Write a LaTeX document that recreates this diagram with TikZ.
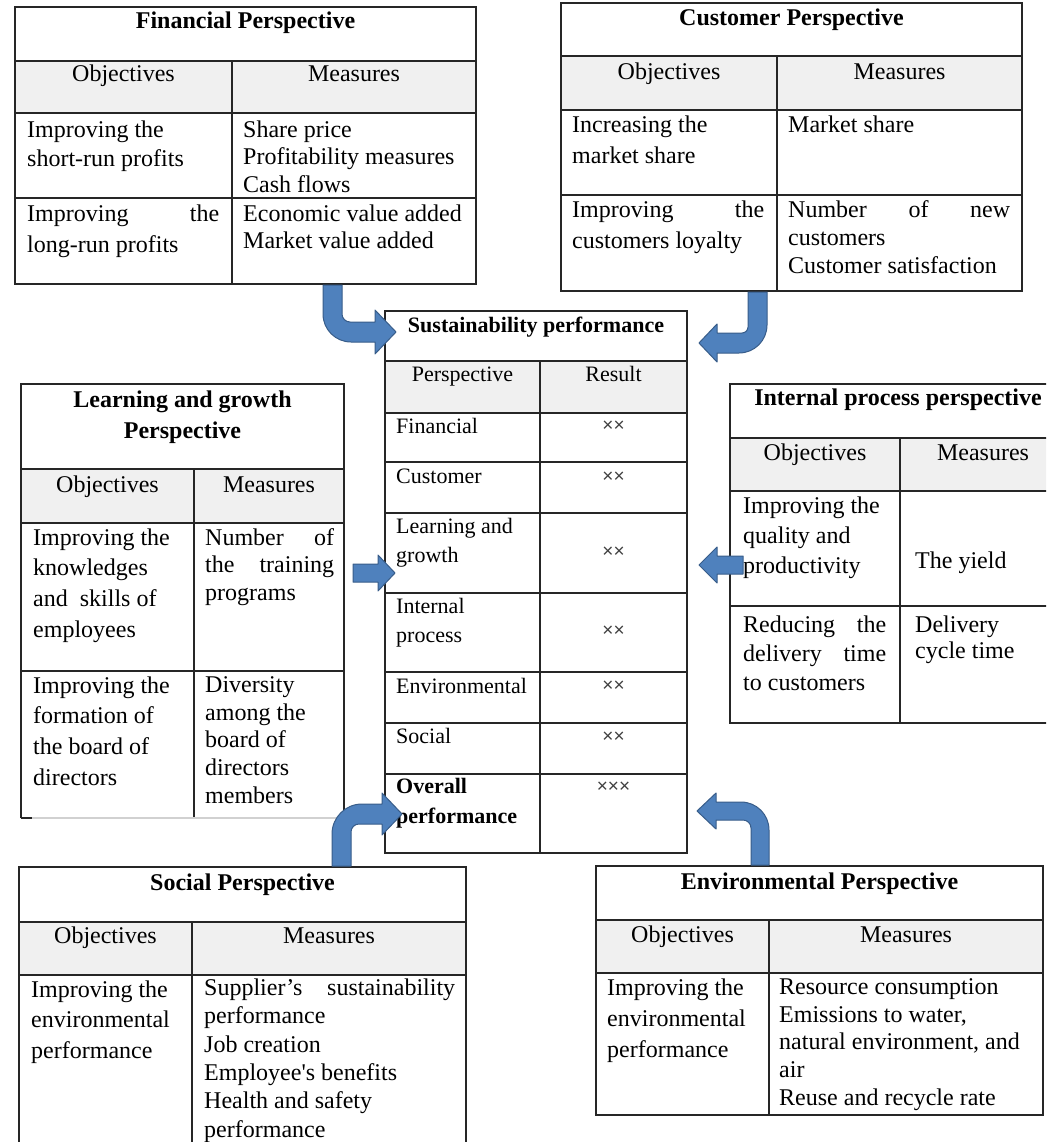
\documentclass[tikz,border=0pt]{standalone}
\usepackage{fontspec}
\setmainfont{Liberation Serif}
\newfontfamily\sansx{Liberation Sans}
\definecolor{arrfill}{HTML}{4F81BD}
\definecolor{arrline}{HTML}{385D8A}
\definecolor{hdrgray}{HTML}{F0F0F0}
\newcommand\tp{\rule{0pt}{20pt}}
\newcommand\jl[2]{\hbox to #1pt{#2}}
\begin{document}
\begin{tikzpicture}[x=1pt,y=-1pt,
  tb/.style={line width=1.4pt, draw=black!85},
  ttl/.style={font=\bfseries\fontsize{24}{28}\selectfont, anchor=base, inner sep=0pt},
  hd/.style={font=\fontsize{24}{28}\selectfont, anchor=base, inner sep=0pt},
  cell/.style={font=\fontsize{24}{#1}\selectfont, anchor=north west, inner sep=0pt, align=left},
  scell/.style={font=\fontsize{22}{#1}\selectfont, anchor=north west, inner sep=0pt, align=left},
  sttl/.style={font=\bfseries\fontsize{22}{26}\selectfont, anchor=base, inner sep=0pt},
  shd/.style={font=\fontsize{22}{26}\selectfont, anchor=base, inner sep=0pt},
  xx/.style={font=\sansx\fontsize{19}{20}\selectfont, text=black!75, anchor=center, inner sep=0pt},
  blockarrow/.style={fill=arrfill, draw=arrline, line width=1pt, line join=round}]
\useasboundingbox (0,0) rectangle (1046,1142);
\clip (0,0) rectangle (1046,1142);
\fill[white] (0,0) rectangle (1046,1142);

% ---------- Financial Perspective ----------
\fill[hdrgray] (15,61) rectangle (476,113);
\draw[tb] (15,7) rectangle (476,284);
\draw[tb] (15,61) -- (476,61) (15,113) -- (476,113) (15,198) -- (476,198) (232,61) -- (232,284);
\node[ttl] (fint) at (245.5,29) {Financial Perspective};
\node[hd] (fino) at (123.5,82) {Objectives};
\node[hd] (finm) at (354,82) {Measures};
\node[cell=29.5] (fino1) at (27,117) {\tp Improving the\\short-run profits};
\node[cell=27.6] (finm1) at (243,117) {\tp Share price\\Profitability measures\\Cash flows};
\node[cell=31] (fino2) at (27,201) {\tp\jl{192}{Improving\hfill the}\\long-run profits};
\node[cell=27] (finm2) at (243,201) {\tp Economic value added\\Market value added};

% ---------- Customer Perspective ----------
\fill[hdrgray] (561,56) rectangle (1022,110);
\draw[tb] (561,3) rectangle (1022,291);
\draw[tb] (561,56) -- (1022,56) (561,110) -- (1022,110) (561,195) -- (1022,195) (777,56) -- (777,291);
\node[ttl] (cust) at (791.5,26) {Customer Perspective};
\node[hd] (cuso) at (669,80) {Objectives};
\node[hd] (cusm) at (899.5,80) {Measures};
\node[cell=31.6] (cuso1) at (572,112) {\tp Increasing the\\market share};
\node[cell=27.6] (cusm1) at (788,112) {\tp Market share};
\node[cell=31.6] (cuso2) at (572,197) {\tp\jl{192}{Improving\hfill the}\\customers loyalty};
\node[cell=28.3] (cusm2) at (788,197) {\tp\jl{222}{Number\hfill of\hfill new}\\customers\\Customer satisfaction};

% ---------- Sustainability performance ----------
\fill[hdrgray] (385,361) rectangle (687,413);
\draw[tb] (385,311) rectangle (687,853);
\draw[tb] (385,361) -- (687,361) (385,413) -- (687,413) (385,462) -- (687,462)
          (385,513) -- (687,513) (385,593) -- (687,593) (385,672) -- (687,672)
          (385,723) -- (687,723) (385,774) -- (687,774) (540,361) -- (540,853);
\node[sttl] (sust) at (536,332) {Sustainability performance};
\node[shd] (susp) at (462.5,381) {Perspective};
\node[shd] (susr) at (613.5,381) {Result};
\node[scell=29] (sus1) at (396,413) {\tp Financial};
\node[scell=29] (sus2) at (396,463) {\tp Customer};
\node[scell=29] (sus3) at (396,513) {\tp Learning and\\growth};
\node[scell=29] (sus4) at (396,593) {\tp Internal\\process};
\node[scell=29] (sus5) at (396,673) {\tp Environmental};
\node[scell=29] (sus6) at (396,723) {\tp Social};
\node[scell=30, font=\bfseries\fontsize{22}{30}\selectfont] (sus7) at (396,773) {\tp Overall\\performance};
\node[xx] (res1) at (613.5,426) {××};
\node[xx] (res2) at (613.5,477) {××};
\node[xx] (res3) at (613.5,552) {××};
\node[xx] (res4) at (613.5,631) {××};
\node[xx] (res5) at (613.5,686) {××};
\node[xx] (res6) at (613.5,737) {××};
\node[xx] (res7) at (613.5,787) {×××};

% ---------- Learning and growth Perspective ----------
\fill[hdrgray] (21,469) rectangle (344,523);
\draw[tb] (21,818) -- (21,384) -- (344,384) -- (344,818);
\draw[tb] (21,469) -- (344,469) (21,523) -- (344,523) (21,671) -- (344,671) (194,469) -- (194,818);
\draw[line width=1.4pt, draw=black!18] (32,818) -- (344,818);
\draw[tb] (21,818) -- (32,818);
\node[ttl] (lgt1) at (182.5,407) {Learning and growth};
\node[ttl] (lgt2) at (182.5,438) {Perspective};
\node[hd] (lgo) at (107.5,492) {Objectives};
\node[hd] (lgm) at (269,492) {Measures};
\node[cell=30.7] (lgo1) at (33,525) {\tp Improving the\\knowledges\\and\ \ skills of\\employees};
\node[cell=27.5] (lgm1) at (205,525) {\tp\jl{129}{Number\hfill of}\\\jl{129}{the\hfill training}\\programs};
\node[cell=30.7] (lgo2) at (33,673) {\tp Improving the\\formation of\\the board of\\directors};
\node[cell=27.8] (lgm2) at (205,672) {\tp Diversity\\among the\\board of\\directors\\members};

% ---------- Internal process perspective ----------
\fill[hdrgray] (730,438) rectangle (1066,491);
\draw[tb] (730,384) rectangle (1066,723);
\draw[tb] (730,438) -- (1066,438) (730,491) -- (1066,491) (730,606) -- (1066,606) (900,438) -- (900,723);
\node[ttl] (ipt) at (898,405) {Internal process perspective};
\node[hd] (ipo) at (815,460) {Objectives};
\node[hd] (ipm) at (983,460) {Measures};
\node[cell=30] (ipo1) at (743,493) {\tp Improving the\\quality and\\productivity};
\node[cell=27.6] (ipm1) at (915,548) {\tp The yield};
\node[cell=29] (ipo2) at (743,612) {\tp\jl{143}{Reducing\hfill the}\\\jl{143}{delivery\hfill time}\\to customers};
\node[cell=26] (ipm2) at (915,612) {\tp Delivery\\cycle time};

% ---------- Social Perspective ----------
\fill[hdrgray] (19,922) rectangle (466,975);
\draw[tb] (19,1150) -- (19,867) -- (466,867) -- (466,1150);
\draw[tb] (19,922) -- (466,922) (19,975) -- (466,975) (192,922) -- (192,1150);
\node[ttl] (sot) at (242.5,890) {Social Perspective};
\node[hd] (soo) at (105.5,943) {Objectives};
\node[hd] (som) at (329,943) {Measures};
\node[cell=30.5] (soo1) at (31,977) {\tp Improving the\\environmental\\performance};
\node[cell=28.4] (som1) at (204,975) {\tp\jl{251}{Supplier’s\hfill sustainability}\\performance\\Job creation\\Employee\textquotesingle s benefits\\Health and safety\\performance};

% ---------- Environmental Perspective ----------
\fill[hdrgray] (596,920) rectangle (1043,973);
\draw[tb] (596,866) rectangle (1043,1115);
\draw[tb] (596,920) -- (1043,920) (596,973) -- (1043,973) (769,920) -- (769,1115);
\node[ttl] (ent) at (819.5,889) {Environmental Perspective};
\node[hd] (eno) at (682.5,942) {Objectives};
\node[hd] (enm) at (906,942) {Measures};
\node[cell=31] (eno1) at (607,975) {\tp Improving the\\environmental\\performance};
\node[cell=27.8] (enm1) at (779,974) {\tp Resource consumption\\Emissions to water,\\natural environment, and\\air\\Reuse and recycle rate};

% ---------- Block arrows ----------
\filldraw[blockarrow] (342,285) -- (342,314) .. controls (342,318.4) and (345.6,322) .. (350,322)
  -- (375,322) -- (375,310) -- (396,332) -- (375,354) -- (375,342) -- (351,342)
  .. controls (335.5,342) and (323,329.5) .. (323,314) -- (323,285) -- cycle;
\filldraw[blockarrow] (748,292) -- (767,292) -- (767,325) .. controls (767,340.5) and (754.5,353) .. (739,353)
  -- (717,353) -- (717,362) -- (699,343) -- (717,324) -- (717,333) -- (742,333)
  .. controls (745.3,333) and (748,330.3) .. (748,327) -- cycle;
\filldraw[blockarrow] (332,866) -- (332,834) .. controls (332,817.4) and (345.4,804) .. (362,804)
  -- (382,804) -- (382,793) -- (402,814) -- (382,835) -- (382,824) -- (359,824)
  .. controls (354.6,824) and (351,827.6) .. (351,832) -- (351,866) -- cycle;
\filldraw[blockarrow] (769,865) -- (769,830) .. controls (769,814.5) and (756.5,802) .. (741,802)
  -- (716,802) -- (716,793) -- (697,811) -- (716,829) -- (716,820) -- (743,820)
  .. controls (747.4,820) and (751,823.6) .. (751,828) -- (751,865) -- cycle;
\filldraw[blockarrow] (353,564) -- (378,564) -- (378,555) -- (395,573) -- (378,591) -- (378,582) -- (353,582) -- cycle;
\filldraw[blockarrow] (743,556) -- (717,556) -- (717,547) -- (699,565) -- (717,583) -- (717,574) -- (743,574) -- cycle;
\end{tikzpicture}
\end{document}
